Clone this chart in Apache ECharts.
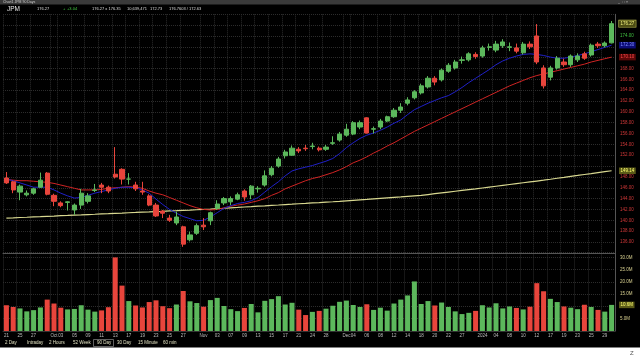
<!DOCTYPE html>
<html><head><meta charset="utf-8">
<script src="https://cdn.jsdelivr.net/npm/echarts@6.0.0/dist/echarts.min.js"></script>
<style>html,body{margin:0;padding:0;background:#fff;}#c{width:640px;height:360px;}</style>
</head><body><div id="c"></div>
<script>
const dates = ['Sep 21','Sep 22','Sep 25','Sep 26','Sep 27','Sep 28','Sep 29',
'Oct 2','Oct 3','Oct 4','Oct 5','Oct 6','Oct 9','Oct 10','Oct 11','Oct 12','Oct 13','Oct 16','Oct 17','Oct 18','Oct 19','Oct 20','Oct 23','Oct 24','Oct 25','Oct 26','Oct 27','Oct 30','Oct 31',
'Nov 1','Nov 2','Nov 3','Nov 6','Nov 7','Nov 8','Nov 9','Nov 10','Nov 13','Nov 14','Nov 15','Nov 16','Nov 17','Nov 20','Nov 21','Nov 22','Nov 24','Nov 27','Nov 28','Nov 29','Nov 30',
'Dec 1','Dec 4','Dec 5','Dec 6','Dec 7','Dec 8','Dec 11','Dec 12','Dec 13','Dec 14','Dec 15','Dec 18','Dec 19','Dec 20','Dec 21','Dec 22','Dec 26','Dec 27','Dec 28','Dec 29',
'Jan 2','Jan 3','Jan 4','Jan 5','Jan 8','Jan 9','Jan 10','Jan 11','Jan 12','Jan 16','Jan 17','Jan 18','Jan 19','Jan 22','Jan 23','Jan 24','Jan 25','Jan 26','Jan 29','Jan 30'];

const tickLabels = ['21','','25','','27','','','Oct','03','','05','','09','','11','','13','','17','','19','','23','','25','','27','','',
'Nov','','03','','07','','09','','13','','15','','17','','21','','24','','28','','',
'Dec','04','','06','','08','','12','','14','','18','','20','','22','','27','','',
'2024','','04','','08','','10','','12','','17','','19','','23','','25','','29',''];

const opens  = [147.8,147.1,145.2,144.7,145.0,146.1,148.7,144.6,143.2,143.3,141.9,142.8,143.5,145.5,146.5,146.1,148.5,149.4,147.6,146.5,145.4,144.5,142.8,141.7,140.4,139.5,138.8,136.4,137.6,139.1,
139.9,142.2,143.2,143.4,143.9,145.4,144.7,145.8,146.5,148.4,150.0,151.9,152.0,153.1,153.3,153.6,153.3,153.1,154.2,154.8,155.7,155.9,157.2,158.9,156.8,157.2,158.3,159.1,160.3,161.6,
162.6,163.5,164.6,166.2,165.9,167.5,168.1,169.5,169.6,170.6,170.3,171.9,171.4,172.2,171.9,171.8,170.9,172.5,174.0,168.1,166.4,168.1,169.2,168.7,169.6,170.7,170.5,172.5,172.2,172.73];
const closes = [146.9,145.6,146.3,145.0,145.8,147.4,144.8,143.5,142.7,143.4,142.8,145.0,144.5,145.6,146.1,145.4,148.0,147.6,147.6,145.8,145.2,142.8,140.8,141.3,140.0,140.6,135.6,137.3,139.0,138.8,
141.4,143.0,144.0,144.0,144.7,144.3,146.3,145.9,148.2,149.6,151.3,152.6,153.3,152.8,153.2,153.7,153.0,153.5,154.3,155.9,156.8,158.0,158.0,156.1,156.9,158.3,159.1,160.3,160.9,162.2,
163.7,164.8,166.2,165.5,167.7,168.6,169.2,169.6,170.7,170.2,171.8,172.0,172.5,172.9,172.0,171.2,172.5,172.0,169.2,164.8,168.1,169.9,168.7,170.3,170.3,169.9,172.3,172.2,172.7,176.27];
const lows   = [146.7,145.0,143.7,144.4,144.7,146.0,144.6,142.6,142.4,141.8,141.0,142.1,143.1,145.2,145.0,145.0,147.7,146.6,146.6,145.4,144.7,142.6,140.6,140.4,139.7,139.1,135.1,136.1,137.3,138.2,
139.1,141.9,142.8,142.8,143.7,143.6,143.9,145.1,146.2,148.1,149.7,151.4,151.9,152.4,152.8,153.1,152.7,152.8,153.9,154.5,155.4,155.7,156.8,156.0,156.0,156.8,158.1,158.9,159.8,161.2,
162.3,163.2,164.3,164.9,165.6,167.2,167.8,168.9,169.3,169.8,170.0,171.3,171.0,171.8,171.2,170.8,170.6,171.6,168.8,164.3,165.8,167.8,168.3,168.3,169.2,169.6,170.2,171.8,171.9,172.63];
const highs  = [148.9,147.3,146.6,145.5,146.0,148.8,148.9,144.9,143.5,143.5,143.1,145.8,145.0,146.7,146.9,146.4,153.5,149.6,148.7,147.1,147.1,144.8,143.2,141.9,141.0,141.6,139.0,137.9,139.4,140.4,
141.6,143.7,144.3,144.4,145.1,145.7,146.5,146.3,149.2,150.0,151.7,153.0,153.8,153.5,153.9,154.3,153.6,153.9,155.5,156.3,157.8,158.3,158.4,159.0,157.3,158.7,159.3,160.7,161.6,162.7,
164.0,165.2,166.6,166.6,168.0,169.0,169.6,170.2,171.0,171.0,172.2,172.6,173.1,173.4,172.8,172.6,172.9,173.0,176.2,168.6,168.5,170.3,169.8,170.6,170.8,171.1,172.6,172.9,173.0,176.76];

const volumes = [10.5,9.8,9.2,8.0,8.5,9.6,12.8,11.2,9.5,8.8,9.0,10.5,8.7,7.9,8.4,9.7,30.0,18.5,12.2,10.4,9.6,11.8,12.5,10.1,9.3,10.8,16.3,12.1,11.4,9.9,
12.6,13.5,10.2,8.9,8.1,9.4,11.0,7.6,12.3,13.0,14.2,10.8,11.5,8.7,6.5,7.8,8.2,9.1,10.3,11.9,12.4,10.6,9.8,10.9,8.6,9.5,8.3,11.2,12.8,14.5,
20.2,11.0,12.2,10.4,11.6,9.8,8.0,6.9,7.4,8.2,10.5,9.6,11.3,9.2,10.0,9.4,8.8,9.9,19.5,16.2,13.1,11.8,10.0,9.5,8.9,10.7,9.8,8.6,7.9,10.64];

const maBlue = [147.6,147.3,146.9,146.5,146.1,146.1,146.1,145.6,145.0,144.5,144.1,144.2,144.6,145.0,145.3,145.6,145.9,146.1,146.1,146.0,145.6,145.0,143.9,142.9,142.0,141.3,140.7,140.3,139.9,140.0,
140.6,141.4,142.2,142.7,143.1,143.3,143.6,144.2,145.2,146.2,147.1,148.2,149.1,149.5,149.8,150.1,150.5,150.9,151.4,152.3,153.4,154.3,155.1,155.7,156.1,156.6,157.2,157.9,158.5,159.5,
160.4,161.0,161.6,162.1,162.6,163.0,163.7,164.5,165.4,166.2,167.0,167.8,168.7,169.4,169.9,170.3,170.6,170.7,170.6,170.4,170.1,169.9,169.9,170.1,170.4,170.7,171.1,171.5,171.9,172.3];
const maRed = [147.5,147.4,147.3,147.3,147.2,147.1,147.0,146.8,146.5,146.2,145.9,145.6,145.6,145.6,145.7,145.9,146.0,146.1,146.2,146.1,145.9,145.4,145.0,144.7,144.2,143.7,143.2,142.7,142.3,142.0,
141.9,142.0,142.3,142.6,142.8,143.0,143.3,143.6,144.0,144.6,145.1,145.8,146.3,146.8,147.3,147.7,148.0,148.4,148.8,149.3,149.9,150.6,151.1,151.7,152.4,153.0,153.7,154.3,155.0,155.7,
156.4,157.0,157.6,158.2,158.8,159.4,160.0,160.6,161.2,161.8,162.4,163.0,163.6,164.2,164.8,165.3,165.8,166.3,166.7,167.0,167.3,167.6,167.9,168.2,168.5,168.8,169.2,169.5,169.8,170.1];
const ma200 = [140.40,140.45,140.51,140.56,140.62,140.67,140.73,140.78,140.84,140.89,140.95,141.00,141.06,141.11,141.17,141.22,141.28,141.33,141.39,141.44,141.50,141.55,141.61,141.66,141.72,141.77,141.83,141.88,141.94,142.00,
142.07,142.15,142.22,142.30,142.37,142.45,142.52,142.60,142.67,142.75,142.82,142.90,142.97,143.05,143.12,143.20,143.27,143.35,143.42,143.50,143.59,143.68,143.77,143.86,143.96,144.05,144.14,144.23,144.32,144.42,
144.51,144.60,144.75,144.90,145.05,145.20,145.35,145.50,145.65,145.80,145.96,146.12,146.28,146.44,146.60,146.76,146.92,147.08,147.24,147.40,147.57,147.75,147.92,148.10,148.27,148.45,148.62,148.80,148.97,149.14];

const headerItems = [
  {t:'JPM', x:7, s:6.5, c:'#e8e8e8'},
  {t:'176.27', x:37, s:4, c:'#dddddd'},
  {t:'+', x:63, s:4, c:'#44cc44'},
  {t:'+3.04', x:67, s:4, c:'#44cc44'},
  {t:'176.27 x 176.35', x:92, s:4, c:'#dddddd'},
  {t:'10,639,471', x:127, s:4, c:'#dddddd'},
  {t:'172.73', x:150, s:4, c:'#dddddd'},
  {t:'176.7603 / 172.63', x:169, s:4, c:'#dddddd'}
];
const buttons = [['2 Day',5],['Intraday',27],['2 Hours',49],['52 Week',73],['90 Day',97],['30 Day',117],['15 Minute',138],['60 min',163]];

const G = '#5cb85c', R = '#e8453c';
const FS = 4.5;
const FONT = '"Liberation Sans", Arial, sans-serif';
const n = dates.length;
const candleData = dates.map((d, i) => [opens[i], closes[i], lows[i], highs[i]]);
const isUp = i => closes[i] >= opens[i];
const prevClose = closes[n - 2];
const markers = [closes[n - 1], maBlue[n - 1], maRed[n - 1], ma200[n - 1]];
const volMarker = volumes[n - 1];

function tagLine(val, fmt, bg, fg, border) {
  return {
    silent: true, symbol: ['none', 'none'],
    lineStyle: {color: 'rgba(0,0,0,0)', width: 0.01, type: 'solid'},
    emphasis: {disabled: true},
    data: [{yAxis: val}],
    label: {show: true, position: 'end', distance: 4, formatter: fmt,
      fontSize: FS, fontFamily: FONT, color: fg, backgroundColor: bg, opacity: 1,
      borderColor: border || bg, borderWidth: border ? 0.6 : 0, padding: [1, 1.5, 0.5, 1.5]}
  };
}

const chart = echarts.init(document.getElementById('c'), null, {renderer: 'canvas'});
const splitX = {show: true, interval: (i) => tickLabels[i] !== '', lineStyle: {color: '#2c2c2c', type: 'dotted', width: 1}};
const option = {
  backgroundColor: '#000',
  animation: false,
  textStyle: {fontFamily: FONT},
  grid: [
    {left: 3, right: 25, top: 14.3, height: 238.5},
    {left: 3, right: 25, top: 252.5, height: 78.5}
  ],
  xAxis: [
    {type: 'category', data: dates, gridIndex: 0, boundaryGap: true,
     axisLine: {show: true, lineStyle: {color: '#555', width: 1}}, axisTick: {show: false}, axisLabel: {show: false}, splitLine: splitX},
    {type: 'category', data: dates, gridIndex: 1, boundaryGap: true,
     axisLine: {show: true, lineStyle: {color: '#333', width: 1}}, axisTick: {show: false},
     axisLabel: {show: true, interval: 0, formatter: (v, i) => tickLabels[i], fontSize: FS, color: '#bbbbbb', margin: 2.5},
     splitLine: splitX}
  ],
  yAxis: [
    {type: 'value', gridIndex: 0, position: 'right', min: 134, max: 178, interval: 2,
     axisLine: {show: true, lineStyle: {color: '#555'}}, axisTick: {show: false},
     axisLabel: {showMinLabel: false, showMaxLabel: false, fontSize: FS, margin: 5,
       formatter: v => markers.some(m => Math.abs(m - v) < 1.0) ? '' : v.toFixed(2),
       color: v => (v > prevClose ? '#40c040' : '#d03838')},
     splitLine: {show: true, lineStyle: {color: '#2c2c2c', type: 'dotted'}}},
    {type: 'value', gridIndex: 1, position: 'right', min: 0, max: 32, interval: 5,
     axisLine: {show: true, lineStyle: {color: '#555'}}, axisTick: {show: false},
     axisLabel: {showMinLabel: false, showMaxLabel: false, fontSize: FS, margin: 5, color: '#d8d090',
       formatter: v => Math.abs(v - volMarker) < 1.5 ? '' : v.toFixed(1) + 'M'},
     splitLine: {show: true, lineStyle: {color: '#2c2c2c', type: 'dotted'}}}
  ],
  series: [
    {type: 'line', name: 'MA200', xAxisIndex: 0, yAxisIndex: 0, data: ma200, showSymbol: false, z: 2,
     lineStyle: {color: '#d8d890', width: 1.2},
     markLine: tagLine(ma200[n - 1], () => ma200[n - 1].toFixed(2), '#5a5a18', '#ffff70')},
    {type: 'line', name: 'MA slow', xAxisIndex: 0, yAxisIndex: 0, data: maRed, showSymbol: false, z: 2,
     lineStyle: {color: '#d02424', width: 1},
     markLine: tagLine(maRed[n - 1], () => maRed[n - 1].toFixed(2), '#5c0808', '#ff4a4a')},
    {type: 'line', name: 'MA fast', xAxisIndex: 0, yAxisIndex: 0, data: maBlue, showSymbol: false, z: 2,
     lineStyle: {color: '#2020c8', width: 1},
     markLine: tagLine(maBlue[n - 1], () => maBlue[n - 1].toFixed(2), '#0c0c78', '#8090ff')},
    {type: 'candlestick', name: 'JPM', xAxisIndex: 0, yAxisIndex: 0, data: candleData, barWidth: '68%', z: 3,
     itemStyle: {color: G, color0: R, borderColor: G, borderColor0: R, borderWidth: 1},
     markLine: tagLine(closes[n - 1], () => closes[n - 1].toFixed(2), '#4c4c14', '#f4f480', '#bdbd50')},
    {type: 'bar', name: 'Volume', xAxisIndex: 1, yAxisIndex: 1, barWidth: '74%',
     data: volumes.map((v, i) => ({value: v, itemStyle: {color: isUp(i) ? G : R}})),
     markLine: tagLine(volMarker, () => volMarker.toFixed(1) + 'M', '#5a5a18', '#ffff70')}
  ],
  graphic: [
    {type: 'rect', shape: {x: 0, y: 0, width: 640, height: 4.5}, style: {fill: '#3a3a3a'}, silent: true},
    {type: 'text', x: 3, y: 0.4, style: {text: 'Chart1 JPM 90 Days', fontSize: 3.5, fill: '#cfcfcf', fontFamily: FONT}, silent: true},
    {type: 'text', x: 618, y: 0.3, style: {text: '_  \u25A1  \u00D7', fontSize: 3.5, fill: '#cfcfcf', fontFamily: FONT}, silent: true}
  ].concat(headerItems.map(h => ({type: 'text', x: h.x, y: 9, style: {text: h.t, fontSize: h.s, fill: h.c, fontFamily: FONT, textVerticalAlign: 'middle'}, silent: true})))
   .concat(buttons.map(b => ({type: 'text', x: b[1], y: 343, style: {text: b[0], fontSize: FS, fill: '#e0e0c0', fontFamily: FONT, textVerticalAlign: 'middle'}, silent: true})))
   .concat([
    {type: 'rect', shape: {x: 93.5, y: 339.5, width: 20, height: 7}, style: {fill: 'none', stroke: '#8a8a8a', lineWidth: 0.7}, silent: true},
    {type: 'rect', shape: {x: 0, y: 347.5, width: 640, height: 12.5}, style: {fill: '#ffffff'}, silent: true},
    {type: 'text', x: 630, y: 350, style: {text: 'Z', fontSize: 6, fill: '#555', fontFamily: FONT}, silent: true}
   ])
};
chart.setOption(option);
</script>
</body></html>
